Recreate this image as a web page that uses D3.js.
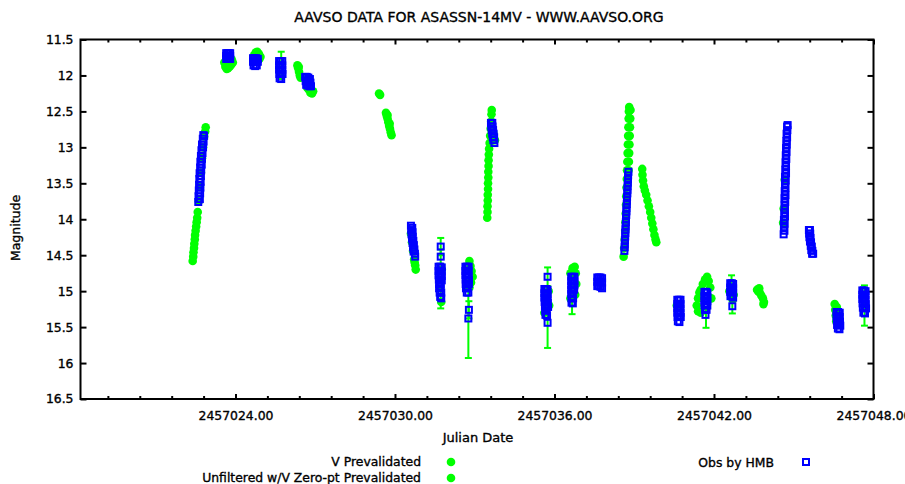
<!DOCTYPE html>
<html>
<head>
<meta charset="utf-8">
<script src="https://cdn.jsdelivr.net/npm/d3@7"></script>
<style>
  body { margin: 0; background: #fff; }
  text { font-family: "DejaVu Sans", sans-serif; fill: #000; }
</style>
</head>
<body>
<script>
// Julian dates are stored as offsets from this base
const JD_BASE = 2457000;

// V Prevalidated (green dots)
const vPrevalidated = [
  [26.33, 11.86], [26.36, 11.90], [26.39, 11.95], [26.42, 12.00], [26.45, 12.03], [26.38, 11.88],
  [29.40, 12.25], [29.44, 12.27],
  [29.66, 12.52], [29.69, 12.56], [29.72, 12.60], [29.75, 12.65], [29.78, 12.70], [29.81, 12.74],
  [29.84, 12.79], [29.87, 12.83], [29.72, 12.55], [29.80, 12.67],
  [39.30, 13.30], [39.31, 13.38], [39.33, 13.46], [39.36, 13.54], [39.40, 13.60], [39.45, 13.66],
  [39.50, 13.74], [39.55, 13.82], [39.60, 13.90], [39.64, 13.98], [39.68, 14.06], [39.72, 14.14],
  [39.76, 14.22], [39.80, 14.28], [39.83, 14.32],
  [43.62, 14.98], [43.66, 15.00], [43.72, 15.02], [43.78, 15.06], [43.84, 15.10], [43.88, 15.15],
  [43.86, 15.18], [43.70, 14.96]
];

// Unfiltered w/V Zero-pt Prevalidated (green dots)
const unfilteredV = [
  [22.39, 14.58], [22.41, 14.52], [22.42, 14.46], [22.44, 14.40], [22.45, 14.34], [22.47, 14.28],
  [22.48, 14.22], [22.50, 14.16], [22.52, 14.10], [22.54, 14.04], [22.56, 13.98], [22.58, 13.90],
  [22.62, 13.75], [22.66, 13.55], [22.70, 13.35], [22.74, 13.15], [22.78, 13.00], [22.82, 12.85],
  [22.86, 12.78], [22.88, 12.72],
  [23.58, 11.82], [23.62, 11.88], [23.67, 11.91], [23.72, 11.90], [23.78, 11.88], [23.84, 11.85],
  [23.90, 11.82], [23.86, 11.78],
  [24.70, 11.72], [24.76, 11.68], [24.82, 11.67], [24.88, 11.70], [24.94, 11.74], [24.90, 11.77],
  [26.70, 12.17], [26.76, 12.20], [26.82, 12.24], [26.88, 12.25], [26.92, 12.22],
  [30.60, 14.20], [30.64, 14.32], [30.68, 14.44], [30.72, 14.56], [30.76, 14.64], [30.78, 14.70], [30.74, 14.60],
  [31.76, 14.70], [31.74, 15.15],
  [32.80, 14.58], [32.84, 14.65], [32.88, 14.72], [32.92, 14.80], [32.86, 14.88], [32.80, 14.95],
  [33.47, 13.98], [33.48, 13.90], [33.48, 13.82], [33.49, 13.74], [33.49, 13.66], [33.50, 13.58],
  [33.50, 13.50], [33.51, 13.42], [33.51, 13.34], [33.52, 13.26], [33.52, 13.18], [33.53, 13.10],
  [33.54, 13.02], [33.56, 12.94], [33.58, 12.84], [33.60, 12.74], [33.62, 12.64], [33.63, 12.54],
  [33.64, 12.48], [33.70, 12.80], [33.76, 12.90],
  [35.78, 15.00], [35.80, 15.20], [35.62, 15.30],
  [36.60, 14.75], [36.68, 14.68], [36.76, 14.66], [36.80, 14.75], [36.82, 14.90], [36.78, 15.05], [36.60, 15.10],
  [38.60, 14.52], [38.62, 14.40], [38.64, 14.28], [38.66, 14.16], [38.67, 14.04], [38.68, 13.92],
  [38.69, 13.80], [38.70, 13.68], [38.71, 13.56], [38.72, 13.44], [38.73, 13.32], [38.74, 13.20],
  [38.75, 13.08], [38.76, 12.96], [38.77, 12.84], [38.78, 12.72], [38.79, 12.60], [38.80, 12.50], [38.81, 12.44],
  [38.86, 12.48], [38.85, 12.60], [38.84, 12.72], [38.83, 12.84], [38.82, 12.96], [38.81, 13.08],
  [38.80, 13.20], [38.79, 13.32],
  [40.60, 15.20],
  [41.35, 15.20], [41.40, 15.10], [41.45, 15.02], [41.50, 14.98], [41.58, 14.90], [41.66, 14.84],
  [41.74, 14.80], [41.80, 14.86], [41.86, 14.95], [41.40, 15.28], [41.50, 15.30], [41.90, 15.10],
  [42.58, 15.00], [42.70, 15.12], [42.74, 15.05],
  [44.62, 13.85], [44.66, 13.45], [44.60, 14.05],
  [46.54, 15.18], [46.56, 15.26], [46.58, 15.34], [46.60, 15.42], [46.62, 15.22],
  [47.62, 15.06], [47.70, 15.20]
];

// green points that carry error bars: [day, mag, err]
const errorPoints = [
  [25.72, 11.86, 0.19],
  [31.72, 14.38, 0.12], [31.72, 14.52, 0.10], [31.72, 15.10, 0.14],
  [32.78, 15.26, 0.12], [32.76, 15.38, 0.55],
  [35.74, 14.80, 0.13], [35.74, 15.44, 0.35],
  [36.66, 15.12, 0.20],
  [41.70, 15.38, 0.13],
  [42.66, 14.90, 0.12], [42.69, 15.21, 0.10],
  [47.66, 15.02, 0.10], [47.66, 15.30, 0.18]
];

// Obs by HMB (blue open squares)
const obsHMB = [
  [22.60, 13.76], [22.66, 13.72], [22.61, 13.68], [22.67, 13.64], [22.62, 13.60], [22.68, 13.56],
  [22.63, 13.52], [22.69, 13.48], [22.64, 13.44], [22.70, 13.40], [22.65, 13.36], [22.71, 13.32],
  [22.67, 13.28], [22.73, 13.24], [22.68, 13.20], [22.74, 13.16], [22.70, 13.12], [22.76, 13.08],
  [22.72, 13.04], [22.78, 13.00], [22.74, 12.96], [22.80, 12.92], [22.77, 12.88], [22.82, 12.84], [22.79, 12.83],
  [23.65, 11.69], [23.70, 11.69], [23.75, 11.69], [23.80, 11.69], [23.65, 11.73], [23.70, 11.73],
  [23.75, 11.73], [23.80, 11.73], [23.65, 11.77], [23.70, 11.77], [23.75, 11.77], [23.80, 11.77],
  [24.66, 11.76], [24.72, 11.76], [24.78, 11.76], [24.84, 11.77], [24.66, 11.81], [24.72, 11.81],
  [24.78, 11.81], [24.84, 11.81], [24.68, 11.86], [24.74, 11.87], [24.80, 11.86],
  [25.64, 11.80], [25.70, 11.80], [25.76, 11.80], [25.64, 11.86], [25.70, 11.86], [25.76, 11.86],
  [25.64, 11.92], [25.70, 11.92], [25.76, 11.92], [25.65, 11.98], [25.71, 11.98], [25.77, 11.98],
  [25.66, 12.04], [25.72, 12.05],
  [26.62, 12.02], [26.68, 12.02], [26.74, 12.03], [26.80, 12.05], [26.64, 12.08], [26.70, 12.08],
  [26.76, 12.09], [26.82, 12.10], [26.66, 12.13], [26.72, 12.14], [26.78, 12.15], [26.84, 12.15],
  [30.60, 14.09], [30.65, 14.12], [30.61, 14.15], [30.66, 14.18], [30.62, 14.21], [30.67, 14.24],
  [30.64, 14.27], [30.69, 14.30], [30.66, 14.33], [30.71, 14.36], [30.68, 14.39], [30.73, 14.42],
  [30.70, 14.45], [30.75, 14.48], [30.76, 14.52],
  [31.72, 14.38], [31.72, 14.52], [31.64, 14.66], [31.70, 14.66], [31.76, 14.67], [31.64, 14.72],
  [31.70, 14.72], [31.76, 14.73], [31.64, 14.78], [31.70, 14.78], [31.76, 14.79], [31.65, 14.84],
  [31.71, 14.84], [31.76, 14.85], [31.66, 14.90], [31.72, 14.90], [31.66, 14.96], [31.72, 14.96],
  [31.68, 15.02], [31.74, 15.02], [31.70, 15.08], [31.74, 15.10],
  [32.65, 14.66], [32.71, 14.66], [32.77, 14.66], [32.65, 14.72], [32.71, 14.72], [32.77, 14.72],
  [32.65, 14.78], [32.71, 14.78], [32.77, 14.78], [32.66, 14.84], [32.72, 14.84], [32.78, 14.84],
  [32.66, 14.90], [32.72, 14.90], [32.78, 14.90], [32.67, 14.96], [32.73, 14.96], [32.70, 15.02],
  [32.76, 15.02], [32.78, 15.26], [32.76, 15.38],
  [33.61, 12.66], [33.66, 12.66], [33.62, 12.71], [33.67, 12.71], [33.64, 12.76], [33.69, 12.76],
  [33.66, 12.81], [33.71, 12.81], [33.68, 12.86], [33.73, 12.86], [33.70, 12.90], [33.74, 12.94],
  [35.74, 14.80], [35.62, 14.97], [35.68, 14.97], [35.74, 14.98], [35.62, 15.03], [35.68, 15.03],
  [35.74, 15.04], [35.62, 15.09], [35.68, 15.09], [35.74, 15.10], [35.63, 15.15], [35.69, 15.15],
  [35.75, 15.16], [35.64, 15.21], [35.70, 15.21], [35.76, 15.22], [35.65, 15.27], [35.71, 15.27],
  [35.66, 15.33], [35.72, 15.34], [35.74, 15.44],
  [36.63, 14.80], [36.69, 14.80], [36.75, 14.80], [36.63, 14.86], [36.69, 14.86], [36.75, 14.86],
  [36.63, 14.92], [36.69, 14.92], [36.75, 14.92], [36.63, 14.98], [36.69, 14.98], [36.74, 14.98],
  [36.63, 15.04], [36.69, 15.04], [36.64, 15.10], [36.70, 15.10], [36.64, 15.16], [36.69, 15.17],
  [37.61, 14.81], [37.67, 14.81], [37.73, 14.81], [37.79, 14.82], [37.61, 14.87], [37.67, 14.87],
  [37.73, 14.87], [37.79, 14.88], [37.61, 14.93], [37.67, 14.93], [37.73, 14.94], [37.79, 14.96],
  [38.63, 14.44], [38.64, 14.39], [38.645, 14.34], [38.65, 14.29], [38.66, 14.24], [38.665, 14.19],
  [38.67, 14.14], [38.68, 14.09], [38.685, 14.04], [38.69, 13.99], [38.70, 13.94], [38.705, 13.89],
  [38.71, 13.84], [38.72, 13.79], [38.725, 13.74], [38.73, 13.69], [38.74, 13.64], [38.745, 13.59],
  [38.75, 13.54], [38.76, 13.49], [38.765, 13.44], [38.77, 13.39], [38.78, 13.34],
  [40.62, 15.12], [40.68, 15.12], [40.74, 15.12], [40.62, 15.18], [40.68, 15.18], [40.74, 15.18],
  [40.62, 15.24], [40.68, 15.24], [40.74, 15.24], [40.62, 15.30], [40.68, 15.30], [40.74, 15.30],
  [40.63, 15.36], [40.69, 15.36], [40.75, 15.36], [40.64, 15.42], [40.70, 15.43],
  [41.64, 15.01], [41.70, 15.01], [41.75, 15.02], [41.64, 15.07], [41.70, 15.07], [41.75, 15.08],
  [41.64, 15.13], [41.70, 15.13], [41.75, 15.14], [41.64, 15.19], [41.70, 15.19], [41.75, 15.20],
  [41.66, 15.26], [41.72, 15.26], [41.68, 15.33],
  [42.61, 14.89], [42.67, 14.89], [42.72, 14.90], [42.61, 14.95], [42.67, 14.95], [42.72, 14.96],
  [42.61, 15.01], [42.67, 15.01], [42.72, 15.02], [42.62, 15.07], [42.68, 15.07], [42.72, 15.09],
  [42.69, 15.21],
  [44.62, 14.21], [44.65, 14.16], [44.63, 14.11], [44.66, 14.06], [44.63, 14.01], [44.67, 13.96],
  [44.64, 13.91], [44.67, 13.86], [44.65, 13.81], [44.68, 13.76], [44.65, 13.71], [44.69, 13.66],
  [44.66, 13.61], [44.69, 13.56], [44.67, 13.51], [44.70, 13.46], [44.67, 13.41], [44.71, 13.36],
  [44.68, 13.31], [44.71, 13.26], [44.69, 13.21], [44.72, 13.16], [44.70, 13.11], [44.73, 13.06],
  [44.71, 13.01], [44.74, 12.96], [44.72, 12.91], [44.75, 12.86], [44.73, 12.81], [44.76, 12.76],
  [44.75, 12.71], [44.77, 12.69],
  [45.57, 14.15], [45.61, 14.15], [45.58, 14.20], [45.62, 14.20], [45.59, 14.25], [45.63, 14.26],
  [45.61, 14.31], [45.65, 14.32], [45.64, 14.37], [45.68, 14.38], [45.66, 14.43], [45.70, 14.44],
  [45.69, 14.48], [45.73, 14.48],
  [46.61, 15.29], [46.67, 15.29], [46.73, 15.30], [46.61, 15.35], [46.67, 15.35], [46.73, 15.36],
  [46.62, 15.41], [46.68, 15.41], [46.74, 15.42], [46.63, 15.47], [46.69, 15.47], [46.75, 15.48],
  [46.66, 15.52], [46.72, 15.53],
  [47.58, 14.99], [47.64, 14.99], [47.70, 15.00], [47.58, 15.05], [47.64, 15.05], [47.70, 15.06],
  [47.58, 15.11], [47.64, 15.11], [47.70, 15.12], [47.59, 15.17], [47.65, 15.17], [47.71, 15.18],
  [47.60, 15.23], [47.66, 15.23], [47.72, 15.24], [47.62, 15.30], [47.68, 15.31]
];

const xMajorTicks = [2457024, 2457030, 2457036, 2457042, 2457048];
const xMinorTicks = [2457019.2, 2457020.4, 2457021.6, 2457022.8, 2457025.2, 2457026.4, 2457027.6,
  2457028.8, 2457031.2, 2457032.4, 2457033.6, 2457034.8, 2457037.2, 2457038.4, 2457039.6,
  2457040.8, 2457043.2, 2457044.4, 2457045.6, 2457046.8];
const yTicks = [11.5, 12, 12.5, 13, 13.5, 14, 14.5, 15, 15.5, 16, 16.5];

const width = 905;
const height = 484;
const plotLeft = 80.5, plotRight = 873.5, plotTop = 39.5, plotBottom = 399;
const green = "#00ff00";
const blue = "#0000ff";

const svg = d3
  .select("body")
  .append("svg")
  .attr("width", width)
  .attr("height", height);

const x = d3.scaleLinear().domain([2457018.17, 2457048.0]).range([plotLeft, plotRight]);
const y = d3.scaleLinear().domain([11.5, 16.5]).range([plotTop, plotBottom]);

const px = (d) => x(JD_BASE + d[0]);
const py = (d) => y(d[1]);

const boldText = (sel, size) =>
  sel.style("font-size", size + "px").style("stroke", "#000").style("stroke-width", 0.35);

// title
boldText(svg.append("text")
  .attr("x", 479).attr("y", 22)
  .attr("text-anchor", "middle")
  .text("AAVSO DATA FOR ASASSN-14MV - WWW.AAVSO.ORG"), 14);

// axes
const fmt = d3.format(".2f");
const gBottom = svg.append("g").attr("transform", `translate(0,${plotBottom})`)
  .call(d3.axisBottom(x).tickValues(xMajorTicks).tickSize(-5).tickFormat(fmt));
gBottom.selectAll("text").attr("y", 21).attr("dy", 0);
svg.append("g").attr("transform", `translate(0,${plotBottom})`)
  .call(d3.axisBottom(x).tickValues(xMinorTicks).tickSize(-3).tickFormat(""));
svg.append("g").attr("transform", `translate(0,${plotTop})`)
  .call(d3.axisTop(x).tickValues(xMajorTicks).tickSize(-5).tickFormat(""));
svg.append("g").attr("transform", `translate(0,${plotTop})`)
  .call(d3.axisTop(x).tickValues(xMinorTicks).tickSize(-3).tickFormat(""));
svg.append("g").attr("transform", `translate(${plotLeft},0)`)
  .call(d3.axisLeft(y).tickValues(yTicks).tickSize(-6).tickPadding(7).tickFormat((d) => d));
svg.append("g").attr("transform", `translate(${plotRight},0)`)
  .call(d3.axisRight(y).tickValues(yTicks).tickSize(-6).tickFormat(""));

svg.selectAll(".domain").remove();
svg.selectAll(".tick line").attr("stroke", "#000").attr("stroke-width", 2);
boldText(svg.selectAll(".tick text").style("font-family", "DejaVu Sans"), 12.4);

svg.append("rect")
  .attr("x", plotLeft).attr("y", plotTop)
  .attr("width", plotRight - plotLeft).attr("height", plotBottom - plotTop)
  .attr("fill", "none").attr("stroke", "#000").attr("stroke-width", 2);

// axis titles
boldText(svg.append("text")
  .attr("transform", "translate(20,228) rotate(-90)")
  .attr("text-anchor", "middle")
  .text("Magnitude"), 12.5);
boldText(svg.append("text")
  .attr("x", 478).attr("y", 442)
  .attr("text-anchor", "middle")
  .text("Julian Date"), 13);

const plot = svg.append("g");

// green error bars
const eb = plot.selectAll("g.err").data(errorPoints).enter().append("g").attr("class", "err");
eb.append("line")
  .attr("x1", px).attr("x2", px)
  .attr("y1", (d) => y(d[1] - d[2])).attr("y2", (d) => y(d[1] + d[2]))
  .attr("stroke", green).attr("stroke-width", 2);
eb.append("line")
  .attr("x1", (d) => px(d) - 3.5).attr("x2", (d) => px(d) + 3.5)
  .attr("y1", (d) => y(d[1] - d[2])).attr("y2", (d) => y(d[1] - d[2]))
  .attr("stroke", green).attr("stroke-width", 2);
eb.append("line")
  .attr("x1", (d) => px(d) - 3.5).attr("x2", (d) => px(d) + 3.5)
  .attr("y1", (d) => y(d[1] + d[2])).attr("y2", (d) => y(d[1] + d[2]))
  .attr("stroke", green).attr("stroke-width", 2);

// green dots
plot.selectAll("circle.v").data(vPrevalidated).enter().append("circle")
  .attr("class", "v")
  .attr("cx", px).attr("cy", py).attr("r", 4.3)
  .attr("fill", green);
plot.selectAll("circle.u").data(unfilteredV).enter().append("circle")
  .attr("class", "u")
  .attr("cx", px).attr("cy", py).attr("r", 4.3)
  .attr("fill", green);

// blue open squares
plot.selectAll("rect.hmb").data(obsHMB).enter().append("rect")
  .attr("class", "hmb")
  .attr("x", (d) => px(d) - 3).attr("y", (d) => py(d) - 3)
  .attr("width", 6).attr("height", 6)
  .attr("fill", "none").attr("stroke", blue).attr("stroke-width", 2);

// legend
const legend = svg.append("g");
const legendText = (tx, ty, label) =>
  boldText(legend.append("text")
    .attr("x", tx).attr("y", ty)
    .attr("text-anchor", "end")
    .text(label), 12.4);
legendText(421, 466, "V Prevalidated");
legendText(421, 482, "Unfiltered w/V Zero-pt Prevalidated");
legendText(774, 467, "Obs by HMB");
legend.append("circle").attr("cx", 451).attr("cy", 462).attr("r", 4.3).attr("fill", green);
legend.append("circle").attr("cx", 451).attr("cy", 478).attr("r", 4.3).attr("fill", green);
legend.append("rect").attr("x", 803).attr("y", 459).attr("width", 6).attr("height", 6)
  .attr("fill", "none").attr("stroke", blue).attr("stroke-width", 2);
</script>
</body>
</html>
